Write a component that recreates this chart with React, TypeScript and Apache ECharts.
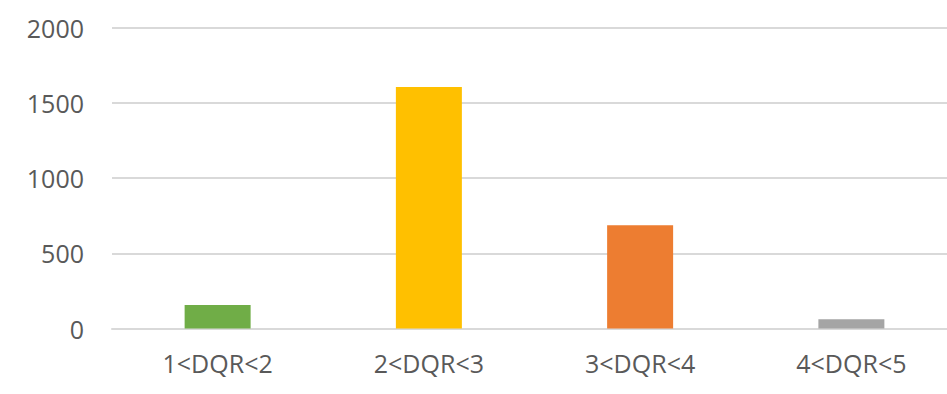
import React, { useEffect, useRef } from "react";
import * as echarts from "echarts";

const categories = ["1<DQR<2", "2<DQR<3", "3<DQR<4", "4<DQR<5"];
const counts = [156, 1605, 686, 61];
const barColors = ["#70AD47", "#FFC000", "#ED7D31", "#A5A5A5"];
const yTicks = { min: 0, max: 2000, interval: 500 };

export default function App() {
  const ref = useRef<HTMLDivElement>(null);

  useEffect(() => {
    if (!ref.current) return;
    const chart = echarts.init(ref.current, null, { renderer: "svg" });
    chart.setOption({
      animation: false,
      backgroundColor: "#ffffff",
      grid: { left: 112, right: 0, top: 27.5, bottom: 65.5, containLabel: false },
      xAxis: {
        type: "category",
        data: categories,
        axisTick: { show: false },
        axisLine: { show: true, lineStyle: { color: "#d9d9d9", width: 2 } },
        axisLabel: {
          color: "#595959",
          fontFamily: "Open Sans",
          fontSize: 25,
          margin: 22,
        },
      },
      yAxis: {
        type: "value",
        min: yTicks.min,
        max: yTicks.max,
        interval: yTicks.interval,
        axisLine: { show: false },
        axisTick: { show: false },
        splitLine: { lineStyle: { color: "#d9d9d9", width: 2 } },
        axisLabel: {
          color: "#595959",
          fontFamily: "Open Sans",
          fontSize: 25,
          margin: 28,
          formatter: (v: number) => String(v),
        },
      },
      series: [
        {
          type: "bar",
          barWidth: 66,
          data: counts.map((v, i) => ({ value: v, itemStyle: { color: barColors[i] } })),
        },
      ],
    });
    return () => chart.dispose();
  }, []);

  return (
    <div
      style={{
        position: "absolute",
        left: 0,
        top: 0,
        width: 947,
        height: 394,
        overflow: "hidden",
        background: "#ffffff",
      }}
    >
      <div ref={ref} style={{ width: 957, height: 394 }} />
    </div>
  );
}
